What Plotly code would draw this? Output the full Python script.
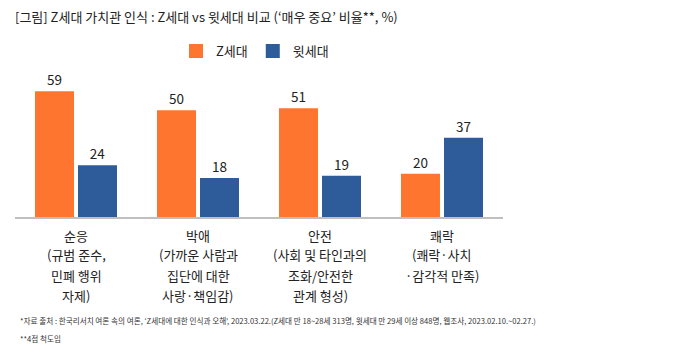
import plotly.graph_objects as go

categories = ["순응", "박애", "안전", "쾌락"]
category_details = [
    ["(규범 준수,", "민폐 행위", "자제)"],
    ["(가까운 사람과", "집단에 대한", "사랑·책임감)"],
    ["(사회 및 타인과의", "조화/안전한", "관계 형성)"],
    ["(쾌락·사치", "·감각적 만족)"],
]
series_names = ["Z세대", "윗세대"]
z_values = [59, 50, 51, 20]
older_values = [24, 18, 19, 37]

title_text = "[그림] Z세대 가치관 인식 : Z세대 vs 윗세대 비교 (‘매우 중요’ 비율**, %)"
footnote1 = "*자료 출처 : 한국리서치 여론 속의 여론, ‘Z세대에 대한 인식과 오해’, 2023.03.22.(Z세대 만 18~28세 313명, 윗세대 만 29세 이상 848명, 웹조사, 2023.02.10.~02.27.)"
footnote2 = "**4점 척도임"

FONT = "Noto Sans CJK KR"
ORANGE = "#FE7530"
BLUE = "#2E5B99"
TXT = "#222222"

fig = go.Figure()
for name, vals, col in [(series_names[0], z_values, ORANGE), (series_names[1], older_values, BLUE)]:
    fig.add_trace(go.Bar(
        x=categories, y=vals, name=name,
        marker=dict(color=col, line=dict(width=2, color=col)),
        text=vals, textposition="outside",
        textfont=dict(size=13.5, color=TXT, family=FONT),
        cliponaxis=False,
    ))

L, R, T, B = 15, 195, 80, 141
PH = 358 - T - B

annotations = []
for cat, details in zip(categories, category_details):
    lines = [cat] + details
    for i, line in enumerate(lines):
        yc = 235 + 20 * i
        annotations.append(dict(
            text=line, xref="x", yref="paper", x=cat, y=-(yc - 217) / PH,
            xanchor="center", yanchor="middle", showarrow=False,
            font=dict(size=13, family=FONT, color=TXT),
        ))

annotations.append(dict(text=footnote1, xref="paper", yref="paper", x=(18 - L) / 488,
                        y=-(320 - 217) / PH, xanchor="left", yanchor="middle", showarrow=False,
                        font=dict(size=7.6, family=FONT, color="#333333")))
annotations.append(dict(text=footnote2, xref="paper", yref="paper", x=(18 - L) / 488,
                        y=-(338 - 217) / PH, xanchor="left", yanchor="middle", showarrow=False,
                        font=dict(size=7.6, family=FONT, color="#333333")))

fig.update_layout(
    width=698, height=358,
    margin=dict(l=L, r=R, t=T, b=B, pad=0),
    paper_bgcolor="white", plot_bgcolor="white",
    font=dict(family=FONT, color=TXT, size=13),
    barmode="group", bargap=0.295, bargroupgap=0.14,
    showlegend=True,
    legend=dict(
        orientation="h", x=(176 - L) / 488, xanchor="left",
        y=1 + (T - 51) / PH, yanchor="middle",
        font=dict(size=13, family=FONT, color=TXT),
        itemwidth=30, traceorder="normal",
    ),
    title=dict(text=title_text, x=15 / 698, xanchor="left", y=1 - 17 / 358, yanchor="middle",
               font=dict(size=13, family=FONT, color=TXT)),
    xaxis=dict(
        showgrid=False, showline=True, linecolor="#BFBFBF", linewidth=1.5,
        ticks="", showticklabels=False, fixedrange=True,
    ),
    yaxis=dict(
        range=[0, PH / 2.115], showgrid=False, showticklabels=False,
        zeroline=False, showline=False, ticks="", fixedrange=True,
    ),
    annotations=annotations,
)

fig.write_html("out.html", config={"displayModeBar": False},
               post_script="document.body.style.margin='0px';")
